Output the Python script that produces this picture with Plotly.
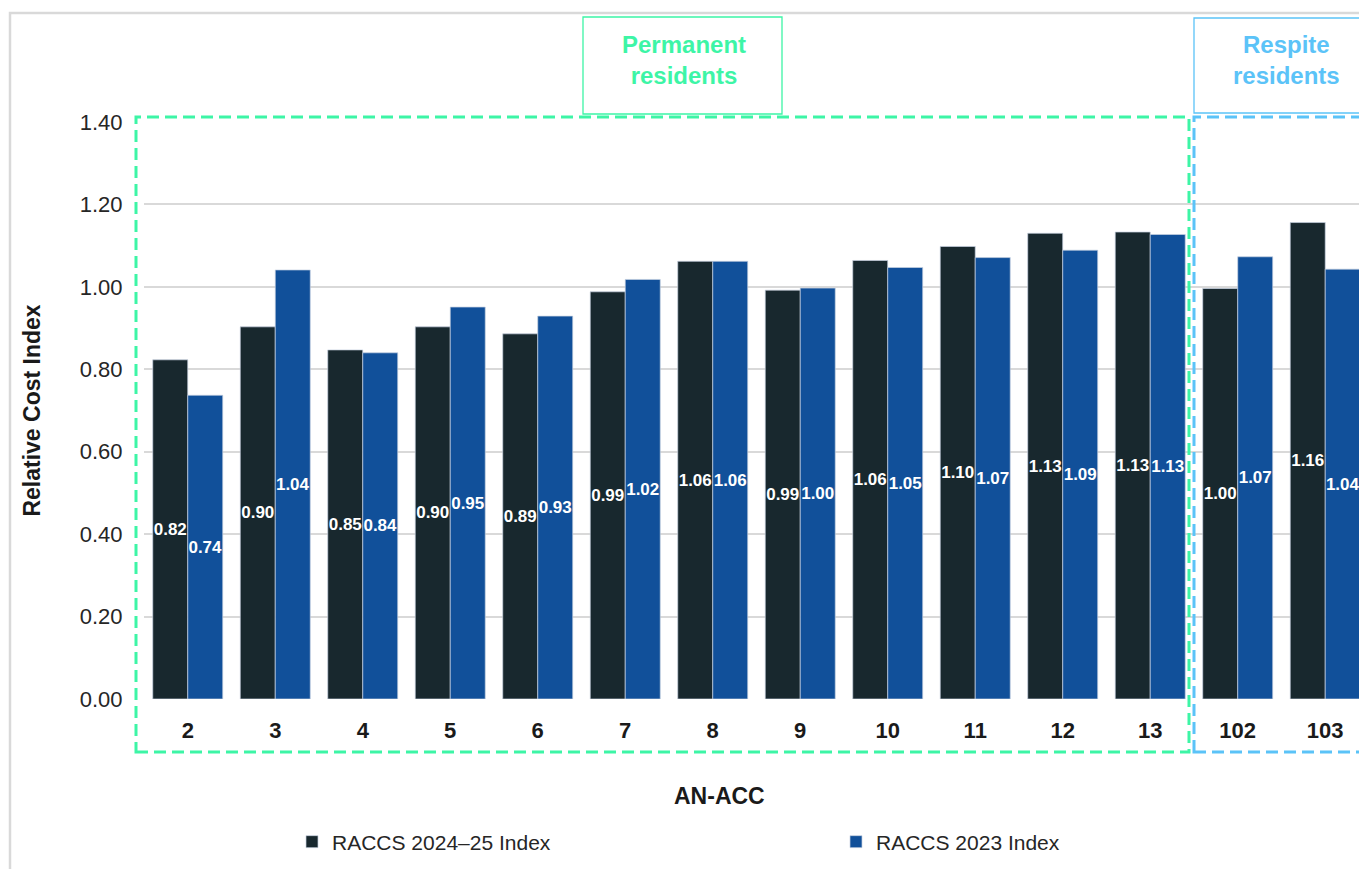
import plotly.graph_objects as go

categories = ["2", "3", "4", "5", "6", "7", "8", "9", "10", "11", "12", "13", "102", "103"]
raccs_2024_25 = [0.823, 0.903, 0.847, 0.903, 0.886, 0.988, 1.062, 0.992, 1.064, 1.098, 1.130, 1.133, 0.996, 1.156]
raccs_2023 = [0.737, 1.041, 0.840, 0.951, 0.929, 1.018, 1.062, 0.997, 1.047, 1.071, 1.089, 1.127, 1.073, 1.043]
series_names = ["RACCS 2024\u201325 Index", "RACCS 2023 Index"]
y_ticks = [0.0, 0.2, 0.4, 0.6, 0.8, 1.0, 1.2, 1.4]

DARK = "#18282E"
BLUE = "#11509A"
GREEN = "#3DF5A6"
LBLUE = "#5BC3F8"
FONT = "Liberation Sans, Arial, sans-serif"

fig = go.Figure()
for name, vals, col, lg in [(series_names[0], raccs_2024_25, DARK, "legend"),
                            (series_names[1], raccs_2023, BLUE, "legend2")]:
    fig.add_trace(go.Bar(
        x=categories, y=vals, name=name, legend=lg,
        marker=dict(color=col, line=dict(color="rgba(200,210,225,0.7)", width=1)),
        texttemplate="%{y:.2f}", textposition="inside", insidetextanchor="middle",
        constraintext="none", textangle=0, cliponaxis=False,
        textfont=dict(color="white", size=17, family=FONT, weight="bold"),
    ))

W, H = 1359, 869
L, R, T, B = 144, 0, 122, 170
pw, ph = W - L - R, H - T - B

def px(x):
    return (x - L) / pw

def py(y):
    return (H - B - y) / ph

legend_font = dict(family=FONT, size=21, color="#262626")

fig.update_layout(
    width=W, height=H,
    margin=dict(l=L, r=R, t=T, b=B),
    paper_bgcolor="white", plot_bgcolor="white",
    barmode="group", bargap=0.2, bargroupgap=0,
    font=dict(family=FONT, color="#262626"),
    showlegend=True,
    legend=dict(orientation="h", x=px(292), y=py(842), yanchor="middle", xanchor="left",
                font=legend_font, bgcolor="rgba(0,0,0,0)"),
    legend2=dict(orientation="h", x=px(836), y=py(842), yanchor="middle", xanchor="left",
                 font=legend_font, bgcolor="rgba(0,0,0,0)"),
    xaxis=dict(
        type="category", range=[-0.5, 13.386],
        showgrid=False, showline=False, zeroline=False,
        ticks="outside", ticklen=12, tickcolor="rgba(0,0,0,0)",
        tickfont=dict(size=22, family=FONT, color="#1a1a1a", weight="bold"),
    ),
    yaxis=dict(
        range=[0, 1.4], tickvals=y_ticks, tickformat=".2f",
        showgrid=True, gridcolor="#D9D9D9", gridwidth=2,
        zeroline=False, showline=False,
        ticks="outside", ticklen=16, tickcolor="rgba(0,0,0,0)",
        tickfont=dict(size=22, family=FONT, color="#262626"),
        title=dict(text="Relative Cost Index", font=dict(size=23, family=FONT, color="#1a1a1a", weight="bold"), standoff=32),
    ),
)

fig.add_annotation(
    text="<b>AN-ACC</b>", xref="paper", yref="paper",
    x=px(719), y=py(796), xanchor="center", yanchor="middle",
    showarrow=False, font=dict(size=23, family=FONT, color="#1a1a1a"),
)

shapes = [
    # outer border
    dict(type="rect", xref="paper", yref="paper", x0=px(10), x1=px(1400), y0=py(900), y1=py(13),
         line=dict(color="#D9D9D9", width=2.5), fillcolor="rgba(0,0,0,0)", layer="below"),
    # permanent dashed group
    dict(type="rect", xref="paper", yref="paper", x0=px(136), x1=px(1189), y0=py(752), y1=py(117),
         line=dict(color=GREEN, width=3, dash="12px,6px"), layer="above"),
    # respite dashed group
    dict(type="rect", xref="paper", yref="paper", x0=px(1194), x1=px(1420), y0=py(752), y1=py(117),
         line=dict(color=LBLUE, width=3, dash="12px,6px"), layer="above"),
    # label boxes
    dict(type="rect", xref="paper", yref="paper", x0=px(583), x1=px(782), y0=py(114), y1=py(17),
         line=dict(color=GREEN, width=1.3), fillcolor="white"),
    dict(type="rect", xref="paper", yref="paper", x0=px(1194), x1=px(1378), y0=py(113), y1=py(18),
         line=dict(color=LBLUE, width=1.3), fillcolor="white"),
]
fig.update_layout(shapes=shapes)

fig.add_annotation(
    text="<b>Permanent<br>residents</b>", xref="paper", yref="paper",
    x=px(684), y=py(60), xanchor="center", yanchor="middle", showarrow=False,
    font=dict(size=24, family=FONT, color=GREEN),
)
fig.add_annotation(
    text="<b>Respite<br>residents</b>", xref="paper", yref="paper",
    x=px(1286), y=py(60), xanchor="center", yanchor="middle", showarrow=False,
    font=dict(size=24, family=FONT, color=LBLUE),
)

fig.write_html("out.html", config={"displayModeBar": False},
               post_script="document.body.style.margin='0';document.body.style.overflow='hidden';")
